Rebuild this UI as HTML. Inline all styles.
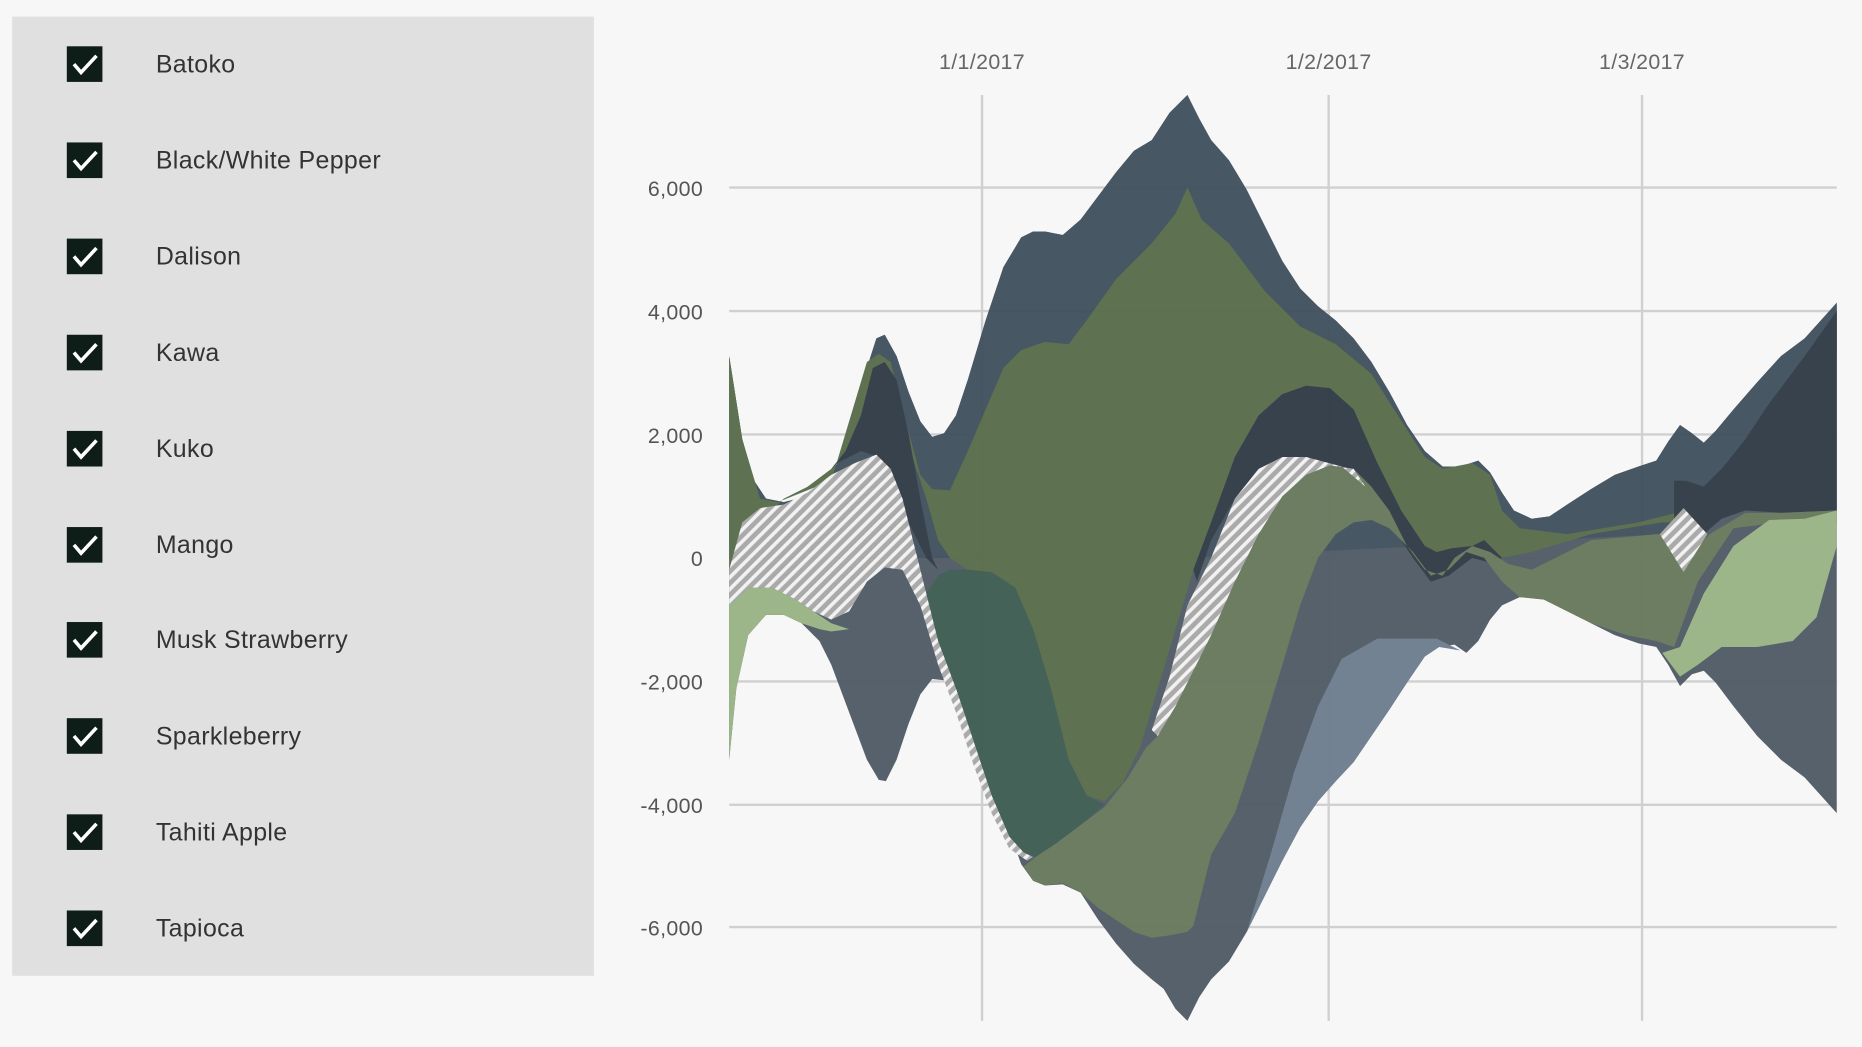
<!DOCTYPE html>
<html><head><meta charset="utf-8"><style>
html,body{margin:0;padding:0;background:#f7f7f7;}
svg{display:block;}
</style></head><body>
<svg width="1862" height="1047" viewBox="0 0 1568 882" xmlns="http://www.w3.org/2000/svg">
<defs>
<pattern id="h" width="7" height="7" patternUnits="userSpaceOnUse" patternTransform="rotate(45)">
<rect width="7" height="7" fill="#a8a8a8"/><rect width="3" height="7" fill="#f2f2f2"/>
</pattern>
</defs>
<rect width="1568" height="882" fill="#f7f7f7"/>
<rect x="10" y="14" width="490" height="808" fill="#e0e0e0"/>
<g font-family="Liberation Sans, sans-serif" font-size="21" fill="#333" letter-spacing="0.3">
<rect x="56" y="39" width="30" height="30" fill="#0f1d18"/><path d="M62 54 l6 7 l13 -14" stroke="#fff" stroke-width="3" fill="none"/><text x="131" y="61">Batoko</text>
<rect x="56" y="120" width="30" height="30" fill="#0f1d18"/><path d="M62 135 l6 7 l13 -14" stroke="#fff" stroke-width="3" fill="none"/><text x="131" y="142">Black/White Pepper</text>
<rect x="56" y="201" width="30" height="30" fill="#0f1d18"/><path d="M62 216 l6 7 l13 -14" stroke="#fff" stroke-width="3" fill="none"/><text x="131" y="223">Dalison</text>
<rect x="56" y="282" width="30" height="30" fill="#0f1d18"/><path d="M62 297 l6 7 l13 -14" stroke="#fff" stroke-width="3" fill="none"/><text x="131" y="304">Kawa</text>
<rect x="56" y="363" width="30" height="30" fill="#0f1d18"/><path d="M62 378 l6 7 l13 -14" stroke="#fff" stroke-width="3" fill="none"/><text x="131" y="385">Kuko</text>
<rect x="56" y="444" width="30" height="30" fill="#0f1d18"/><path d="M62 459 l6 7 l13 -14" stroke="#fff" stroke-width="3" fill="none"/><text x="131" y="466">Mango</text>
<rect x="56" y="524" width="30" height="30" fill="#0f1d18"/><path d="M62 539 l6 7 l13 -14" stroke="#fff" stroke-width="3" fill="none"/><text x="131" y="546">Musk Strawberry</text>
<rect x="56" y="605" width="30" height="30" fill="#0f1d18"/><path d="M62 620 l6 7 l13 -14" stroke="#fff" stroke-width="3" fill="none"/><text x="131" y="627">Sparkleberry</text>
<rect x="56" y="686" width="30" height="30" fill="#0f1d18"/><path d="M62 701 l6 7 l13 -14" stroke="#fff" stroke-width="3" fill="none"/><text x="131" y="708">Tahiti Apple</text>
<rect x="56" y="767" width="30" height="30" fill="#0f1d18"/><path d="M62 782 l6 7 l13 -14" stroke="#fff" stroke-width="3" fill="none"/><text x="131" y="789">Tapioca</text>
</g>
<g stroke="#d0d0d0" stroke-width="2">
<line x1="614" y1="158" x2="1547" y2="158"/><line x1="614" y1="262" x2="1547" y2="262"/><line x1="614" y1="366" x2="1547" y2="366"/><line x1="614" y1="470" x2="1547" y2="470"/><line x1="614" y1="574" x2="1547" y2="574"/><line x1="614" y1="678" x2="1547" y2="678"/><line x1="614" y1="781" x2="1547" y2="781"/>
<line x1="827" y1="80" x2="827" y2="860"/><line x1="1119" y1="80" x2="1119" y2="860"/><line x1="1383" y1="80" x2="1383" y2="860"/>
</g>
<g font-family="Liberation Sans, sans-serif" font-size="18" fill="#555" text-anchor="end" letter-spacing="0.3">
<text x="592" y="165">6,000</text><text x="592" y="269">4,000</text><text x="592" y="373">2,000</text><text x="592" y="477">0</text><text x="592" y="581">-2,000</text><text x="592" y="685">-4,000</text><text x="592" y="788">-6,000</text>
</g>
<g font-family="Liberation Sans, sans-serif" font-size="18" fill="#666" text-anchor="middle" letter-spacing="0.3">
<text x="827" y="58">1/1/2017</text><text x="1119" y="58">1/2/2017</text><text x="1383" y="58">1/3/2017</text>
</g>
<g opacity="0.97">
<polygon fill="#525d68" points="614,300 625,370 635,405 645,420 660,423 680,418 700,400 715,370 730,310 738,285 745,282 755,300 765,330 775,355 785,368 795,365 805,350 815,320 830,270 845,225 860,200 870,195 880,195 895,198 910,185 925,165 940,145 955,127 970,118 985,95 1000,80 1010,100 1020,118 1035,135 1050,160 1065,190 1080,220 1095,243 1110,258 1125,270 1140,285 1155,305 1170,330 1185,358 1200,380 1215,393 1230,393 1245,388 1255,398 1265,415 1275,430 1290,437 1305,435 1320,425 1340,412 1360,400 1380,393 1395,388 1405,372 1415,358 1425,365 1435,373 1445,363 1460,345 1480,322 1500,300 1520,285 1547,255 1547,685 1520,655 1500,640 1480,620 1460,595 1445,575 1435,565 1425,568 1415,578 1405,560 1395,545 1380,542 1360,535 1340,525 1320,512 1300,505 1280,503 1265,510 1255,522 1245,540 1235,550 1225,543 1212,545 1200,553 1185,575 1170,598 1155,620 1140,642 1125,658 1110,675 1095,697 1080,725 1065,755 1050,785 1035,810 1020,825 1010,840 1000,860 990,850 980,833 970,825 955,812 940,795 925,775 910,752 895,745 880,746 870,742 860,728 850,700 835,660 825,630 815,600 805,580 795,573 785,572 775,585 765,610 755,640 746,658 740,657 730,640 715,600 700,560 690,540 675,525 660,518 645,518 630,535 620,580 614,640"/>
<polygon fill="#435260" points="614,300 625,370 635,405 645,420 660,423 680,418 700,400 715,370 730,310 738,285 745,282 755,300 765,330 775,355 785,368 795,365 805,350 815,320 830,270 845,225 860,200 870,195 880,195 895,198 910,185 925,165 940,145 955,127 970,118 985,95 1000,80 1010,100 1020,118 1035,135 1050,160 1065,190 1080,220 1095,243 1110,258 1125,270 1140,285 1155,305 1170,330 1185,358 1200,380 1215,393 1230,393 1245,388 1255,398 1265,415 1275,430 1290,437 1305,435 1320,425 1340,412 1360,400 1380,393 1395,388 1405,372 1415,358 1425,365 1435,373 1445,363 1460,345 1480,322 1500,300 1520,285 1547,255 1547,300 1400,450 1000,470 780,470 614,470"/>
<polygon fill="#5a6e4c" points="614,300 625,370 640,420 655,423 700,405 730,305 740,298 750,305 760,345 775,400 785,412 800,413 815,380 830,345 845,310 860,295 880,288 900,290 915,270 940,235 970,205 990,180 1000,158 1012,185 1035,205 1065,245 1095,275 1125,290 1155,315 1185,362 1200,385 1215,395 1240,390 1255,400 1265,430 1280,445 1320,450 1380,440 1400,435 1420,430 1440,425 1480,395 1520,305 1547,262 1547,430 1500,432 1470,430 1440,440 1420,440 1400,440 1340,450 1290,465 1265,470 1250,455 1240,460 1220,470 1210,465 1200,460 1180,430 1160,390 1140,345 1120,327 1100,325 1080,332 1060,350 1040,385 1020,440 1005,480 990,530 975,580 960,630 945,660 930,675 915,670 900,640 885,580 870,530 855,495 835,482 815,480 800,470 790,455 780,420 765,375 750,345 738,330 725,350 712,380 700,395 680,410 660,420 640,440 625,460 614,480"/>
<polygon fill="#323d48" points="1005,480 1020,440 1040,385 1060,350 1080,332 1100,325 1120,327 1140,345 1160,390 1180,430 1200,460 1210,465 1222,462 1240,460 1250,455 1265,470 1255,474 1240,470 1220,485 1205,490 1190,470 1170,440 1150,410 1130,393 1100,385 1080,385 1060,395 1040,420 1020,455 1008,490"/>
<polygon fill="#323d48" points="1410,405 1420,405 1435,410 1450,395 1470,370 1490,340 1520,300 1547,262 1547,430 1500,432 1470,430 1450,437 1435,450 1420,445 1410,450"/>
<polygon fill="#323d48" points="700,395 712,380 725,350 735,310 745,305 755,320 765,365 775,420 785,470 790,480 780,470 765,440 750,395 740,385 725,380 705,390"/>
<polygon fill="#3f5e52" points="780,500 790,485 800,480 815,480 835,482 855,495 870,530 885,580 900,640 915,670 930,678 910,695 890,710 872,722 862,718 850,705 835,670 820,625 805,580 790,540"/>
<polygon fill="#687a5e" points="975,620 990,595 1005,565 1020,535 1040,490 1060,450 1080,418 1100,400 1120,392 1140,395 1155,410 1170,430 1185,460 1200,480 1215,485 1225,470 1240,460 1255,465 1270,475 1290,480 1340,455 1395,450 1410,450 1420,470 1440,450 1470,432 1500,432 1547,430 1547,440 1500,440 1460,445 1430,490 1410,545 1395,540 1370,535 1340,525 1300,505 1280,503 1265,490 1250,470 1235,465 1220,480 1205,485 1190,465 1170,445 1155,438 1140,440 1125,450 1110,470 1095,510 1080,560 1060,625 1040,685 1020,720 1005,780 1000,785 985,788 970,790 955,785 940,775 925,765 910,752 895,744 880,746 870,742 862,730 872,722 890,710 910,695 930,680 950,655 965,630"/>
<polygon fill="#6f7f8f" points="1050,785 1070,720 1090,650 1110,595 1130,555 1160,538 1210,538 1230,548 1212,545 1200,553 1185,575 1170,598 1155,620 1140,642 1125,658 1110,675 1095,697 1080,725 1065,755"/>
<polygon fill="#9ab487" points="614,510 630,495 650,495 670,505 685,515 700,525 715,530 700,532 690,530 675,525 660,518 645,518 630,535 620,580 614,640"/>
<polygon fill="#9ab487" points="1400,550 1415,545 1435,500 1460,460 1490,438 1520,437 1547,430 1547,460 1530,520 1510,540 1480,545 1450,545 1430,560 1415,570"/>
<polygon fill="url(#h)" points="614,480 625,440 640,428 660,425 680,415 700,400 720,390 738,383 750,395 760,420 770,460 780,500 790,540 805,580 820,625 835,670 850,705 862,718 870,722 865,725 850,715 835,685 820,645 805,600 790,560 775,510 760,480 745,478 730,490 715,515 700,522 685,515 670,505 650,495 630,495 614,510"/>
<polygon fill="url(#h)" points="970,615 985,570 1000,510 1020,470 1040,420 1060,395 1080,385 1100,385 1130,393 1150,410 1140,395 1120,392 1100,400 1080,418 1060,450 1040,490 1020,535 1005,565 990,595 975,620"/>
<polygon fill="url(#h)" points="1398,450 1418,428 1438,450 1418,482"/>
</g>
</svg>
</body></html>
